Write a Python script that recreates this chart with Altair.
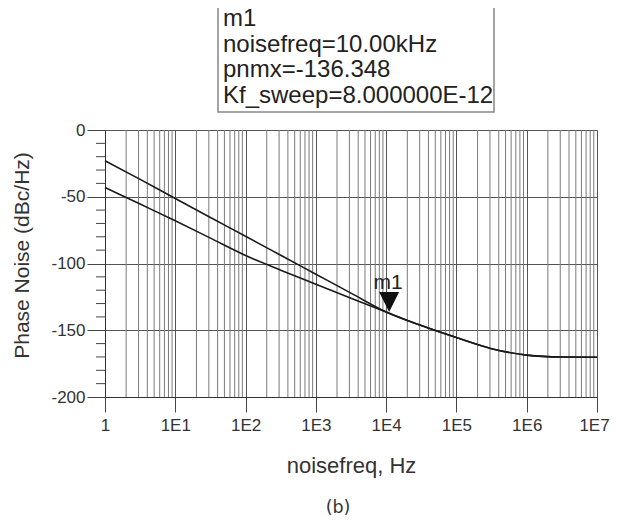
import json
import altair as alt
import pandas as pd

# ---------------- data ----------------
freq_hz = [1, 3.162, 10, 31.62, 100, 316.2, 1000, 3162, 10000, 31620,
           100000, 316200, 1000000, 3162000, 10000000]
pn_upper = [-23, -37, -51.3, -65.5, -79.6, -93.8, -108, -122.2, -136.3,
            -146.5, -155.5, -163.8, -168.6, -170, -170.2]
pn_lower = [-43, -55.5, -68, -81, -94, -105, -115.5, -126, -136.3,
            -146.5, -155.5, -163.8, -168.6, -170, -170.2]

marker_name = "m1"
marker_freq = 10000
marker_pn = -136.348
box_lines = ["m1", "noisefreq=10.00kHz", "pnmx=-136.348", "Kf_sweep=8.000000E-12"]

x_tick_values = [1, 10, 100, 1000, 10000, 100000, 1000000, 10000000]
x_tick_labels = ["1", "1E1", "1E2", "1E3", "1E4", "1E5", "1E6", "1E7"]
x_minor_values = [m * 10 ** k for k in range(7) for m in range(2, 10)]
y_tick_values = [0, -50, -100, -150, -200]
y_minor_values = [v for v in range(-190, 0, 10) if v % 50 != 0]

caption = "(b)"

# ---------------- tables ----------------
curves = pd.DataFrame(
    {"freq": freq_hz * 2,
     "pn": pn_upper + pn_lower,
     "series": ["upper"] * len(freq_hz) + ["lower"] * len(freq_hz)}
)
marker = pd.DataFrame({"freq": [marker_freq], "pn": [marker_pn], "name": [marker_name]})
xminor = pd.DataFrame({"freq": x_minor_values})
yminor = pd.DataFrame({"pn": y_minor_values})
one = pd.DataFrame({"k": [0]})

FONT = "Liberation Sans"
W, H = 492, 267

xscale = alt.Scale(type="log", domain=[1, 10000000], nice=False)
yscale = alt.Scale(domain=[-200, 0], nice=False)

label_expr = "{}[indexof({}, datum.value)]".format(json.dumps(x_tick_labels), json.dumps(x_tick_values))

x_axis = alt.Axis(values=x_tick_values, labelExpr=label_expr, grid=True,
                  gridColor="#555555", gridWidth=1, tickSize=15, tickColor="#444444",
                  domainColor="#333333", labelPadding=5, labelFontSize=17,
                  labelColor="#333333", labelFont=FONT, labelFlush=False,
                  labelOffset={"condition": {"test": "datum.value == 10000000", "value": -3},
                               "value": 0},
                  labelOverlap=False, title="noisefreq, Hz", titleFontSize=22,
                  titleFont=FONT, titleFontWeight="normal", titleColor="#333333",
                  titleBaseline="alphabetic", titleY=75)
y_axis = alt.Axis(values=y_tick_values, labelExpr="'' + datum.value", grid=True,
                  gridColor="#555555", gridWidth=1,
                  tickSize=18, tickColor="#444444", domainColor="#333333",
                  labelPadding=2, labelFontSize=17, labelColor="#333333",
                  labelFont=FONT, labelOverlap=False, title="Phase Noise (dBc/Hz)",
                  titleFontSize=21, titleFont=FONT, titleFontWeight="normal",
                  titleColor="#333333", titleX=-73, titleY=125, titleBaseline="bottom",
                  titleAngle=270)

X = alt.X("freq:Q", scale=xscale, axis=x_axis)
Y = alt.Y("pn:Q", scale=yscale, axis=y_axis)

minor_grid = alt.Chart(xminor).mark_rule(color="#7a7a7a", strokeWidth=1).encode(x=X)
minor_yticks = alt.Chart(yminor).mark_rule(color="#444444", strokeWidth=1).encode(
    y=Y, x=alt.value(-9), x2=alt.value(0)
)
lines = alt.Chart(curves).mark_line(color="#1a1a1a", strokeWidth=1.6,
                                    interpolate="monotone").encode(
    x=X, y=Y, detail="series:N"
)
tri = alt.Chart(marker).mark_point(shape="M-1,-1L1,-1L0,1Z", filled=True, size=400,
                                   color="#111111", opacity=1, yOffset=-10, xOffset=3).encode(
    x=X, y=Y
)
tri_label = alt.Chart(marker).mark_text(fontSize=21, font=FONT, color="#222222",
                                        baseline="alphabetic", dy=-23, dx=2).encode(
    x=X, y=Y, text="name:N"
)
box_rect = alt.Chart(one).mark_rect(fill="white", stroke="#888888", strokeWidth=1.5).encode(
    x=alt.value(113), x2=alt.value(389), y=alt.value(-126), y2=alt.value(-18)
)
box_layers = []
for i, line in enumerate(box_lines):
    box_layers.append(
        alt.Chart(one).mark_text(text=line, fontSize=24, font=FONT, color="#222222",
                                 align="left", baseline="alphabetic").encode(
            x=alt.value(118), y=alt.value(-104 + 25.5 * i)
        )
    )
cap_text = alt.Chart(one).mark_text(text=caption, fontSize=17.5, font="DejaVu Sans",
                                    color="#333333", align="center",
                                    baseline="alphabetic").encode(
    x=alt.value(233), y=alt.value(382.5)
)

chart = alt.layer(minor_grid, minor_yticks, lines, tri, tri_label, box_rect, *box_layers,
                  cap_text).properties(
    width=W, height=H,
    autosize=alt.AutoSizeParams(type="none"),
    padding={"left": 97, "top": 122, "right": 13, "bottom": 120},
    background="white",
).configure_view(stroke=None)

chart.save("out.html", embed_options={"renderer": "svg", "actions": False})
